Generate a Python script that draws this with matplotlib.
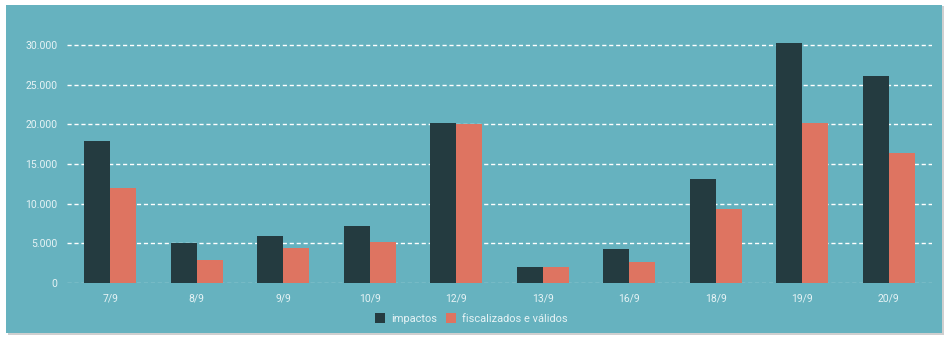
import matplotlib
matplotlib.use("Agg")
import matplotlib.pyplot as plt
from matplotlib.patches import Rectangle
from matplotlib.ticker import FuncFormatter
import numpy as np

plt.rcParams['font.family'] = ['Roboto', 'DejaVu Sans']

categories = ["7/9", "8/9", "9/9", "10/9", "12/9", "13/9", "16/9", "18/9", "19/9", "20/9"]
impactos = [17900, 5050, 5900, 7200, 20150, 2000, 4300, 13100, 30250, 26100]
fiscalizados = [12000, 2900, 4450, 5150, 20050, 2000, 2650, 9300, 20100, 16400]
yticks = [0, 5000, 10000, 15000, 20000, 25000, 30000]

W, H = 948, 340
panel_color = "#66b2bf"
dark_color = "#243b40"
red_color = "#de7461"
text_color = "#e6f3f5"

fig = plt.figure(figsize=(W / 100, H / 100), dpi=100)
fig.patch.set_facecolor("white")

# card with a soft shadow
fig.patches.append(Rectangle((8 / W, 1 - 335 / H), 936 / W, 329 / H,
                             transform=fig.transFigure, facecolor="#cfcfcf",
                             edgecolor="none", zorder=-2))
fig.patches.append(Rectangle((6 / W, 1 - 333 / H), 936 / W, 328 / H,
                             transform=fig.transFigure, facecolor=panel_color,
                             edgecolor="none", zorder=-1))

ax_left, ax_right = 67, 932
ax_bottom, ax_top = 283, 29
ax = fig.add_axes([ax_left / W, 1 - ax_bottom / H,
                   (ax_right - ax_left) / W, (ax_bottom - ax_top) / H])
ax.set_facecolor("none")
ax.set_zorder(3)

x = np.arange(len(categories))
bw = 0.30
ax.bar(x - bw / 2, impactos, width=bw, color=dark_color, label="impactos", zorder=3)
ax.bar(x + bw / 2, fiscalizados, width=bw, color=red_color,
       label="fiscalizados e válidos", zorder=3)

ax.set_xlim(-0.5, len(categories) - 0.5)
ax.set_ylim(0, 32000)
ax.set_yticks(yticks)
ax.yaxis.set_major_formatter(FuncFormatter(lambda v, p: f"{int(v):,}".replace(",", ".")))
ax.set_xticks(x)
ax.set_xticklabels(categories)

for t in yticks:
    if t == 0:
        ax.axhline(t, color="white", alpha=0.55, lw=1, dashes=(3, 2), zorder=2)
    else:
        ax.axhline(t, color="white", lw=1, dashes=(3, 2), zorder=2)

for s in ax.spines.values():
    s.set_visible(False)
ax.tick_params(axis="both", length=0, colors=text_color, labelsize=7.5)
ax.tick_params(axis="y", pad=7)
ax.tick_params(axis="x", pad=7.5)

leg = fig.legend(loc="center", bbox_to_anchor=(0.497, 1 - 318.5 / H), ncol=2,
                 frameon=False, fontsize=7.9, handlelength=0.95, handleheight=0.95,
                 handletextpad=0.5, columnspacing=0.8)
leg.set_zorder(4)
for txt in leg.get_texts():
    txt.set_color(text_color)

fig.savefig("out.png", dpi=100, facecolor=fig.get_facecolor())
